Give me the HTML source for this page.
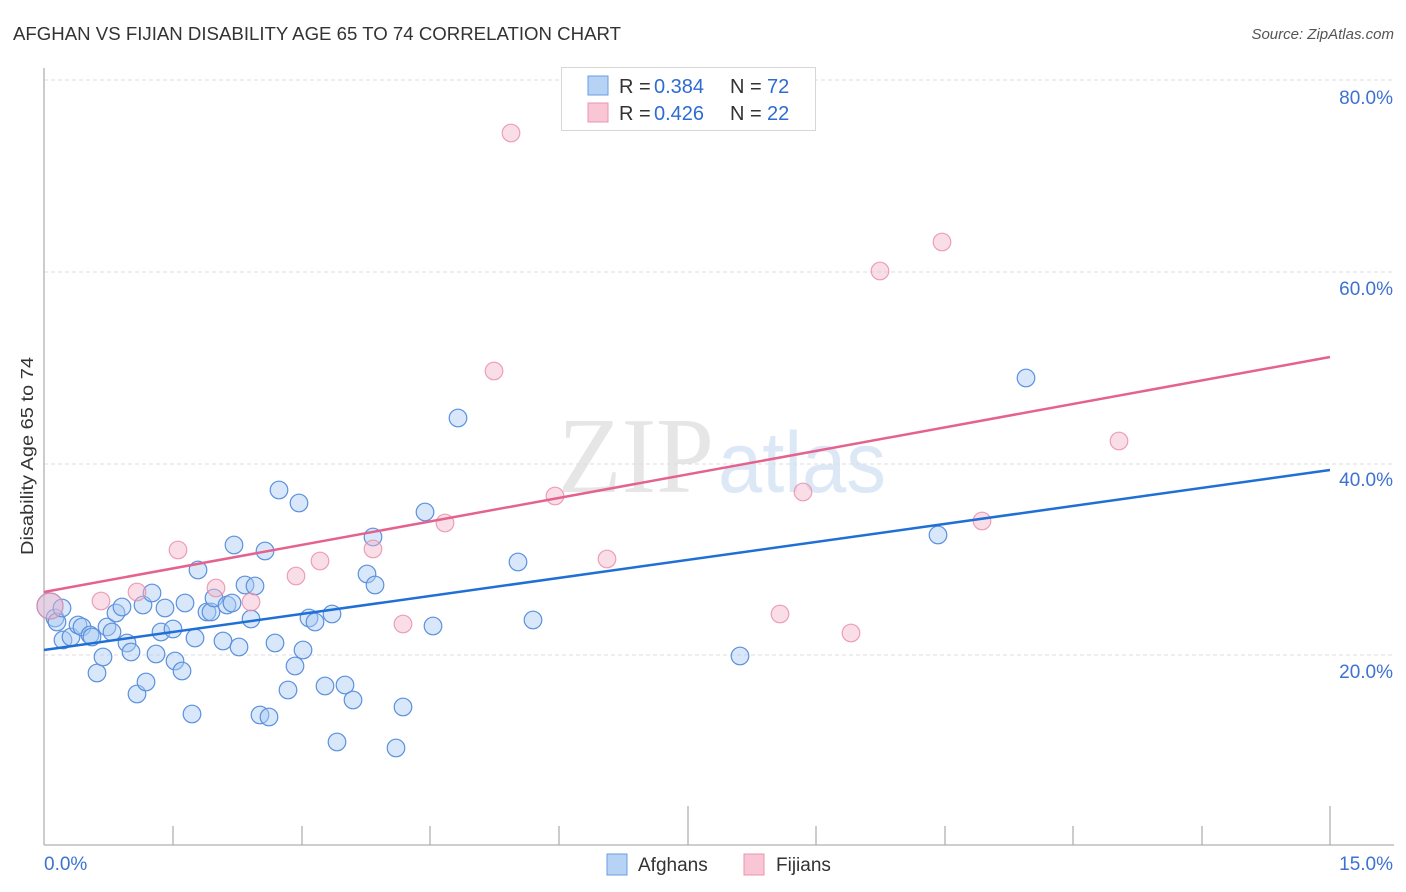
<!DOCTYPE html>
<html><head><meta charset="utf-8"><style>
html,body{margin:0;padding:0;background:#fff;}
svg{display:block;}
</style></head><body>
<svg width="1406" height="892" viewBox="0 0 1406 892" xmlns="http://www.w3.org/2000/svg" font-family="Liberation Sans, sans-serif">
<rect width="1406" height="892" fill="#fff"/>
<text x="13" y="40" font-size="18.5" fill="#333" textLength="608" lengthAdjust="spacingAndGlyphs">AFGHAN VS FIJIAN DISABILITY AGE 65 TO 74 CORRELATION CHART</text>
<text x="1394" y="39" font-size="15" fill="#555" font-style="italic" text-anchor="end">Source: ZipAtlas.com</text>

<!-- watermark -->
<text x="558" y="492" font-family="Liberation Serif, serif" font-size="108" fill="#e6e6e6" textLength="156" lengthAdjust="spacingAndGlyphs">ZIP</text>
<text x="718" y="492" font-size="86" fill="#dde8f6" textLength="168" lengthAdjust="spacingAndGlyphs">atlas</text>

<!-- gridlines -->
<g stroke="#dedede" stroke-width="1" stroke-dasharray="4,3">
<line x1="44" y1="80" x2="1393" y2="80"/>
<line x1="44" y1="272" x2="1393" y2="272"/>
<line x1="44" y1="464" x2="1393" y2="464"/>
<line x1="44" y1="655" x2="1393" y2="655"/>
</g>

<!-- axes -->
<g stroke="#b0b0b0" stroke-width="1.3">
<line x1="44" y1="68" x2="44" y2="845"/>
<line x1="44" y1="845" x2="1394" y2="845"/>
<line x1="173" y1="826" x2="173" y2="845"/>
<line x1="302" y1="826" x2="302" y2="845"/>
<line x1="430" y1="826" x2="430" y2="845"/>
<line x1="559" y1="826" x2="559" y2="845"/>
<line x1="688" y1="806" x2="688" y2="845"/>
<line x1="816" y1="826" x2="816" y2="845"/>
<line x1="945" y1="826" x2="945" y2="845"/>
<line x1="1073" y1="826" x2="1073" y2="845"/>
<line x1="1202" y1="826" x2="1202" y2="845"/>
<line x1="1330" y1="806" x2="1330" y2="845"/>
</g>

<!-- y labels -->
<g font-size="19" fill="#3d72d1" text-anchor="end">
<text x="1393" y="104">80.0%</text>
<text x="1393" y="295">60.0%</text>
<text x="1393" y="486">40.0%</text>
<text x="1393" y="678">20.0%</text>
</g>
<text x="44" y="870" font-size="19" fill="#3d72d1">0.0%</text>
<text x="1393" y="870" font-size="19" fill="#3d72d1" text-anchor="end">15.0%</text>

<text transform="translate(33,456) rotate(-90)" font-size="17.5" fill="#333" text-anchor="middle" textLength="198" lengthAdjust="spacingAndGlyphs">Disability Age 65 to 74</text>

<!-- blue points -->
<g fill="#a9c9f1" fill-opacity="0.45" stroke="#5b90de" stroke-width="1.2">
<circle cx="50" cy="606" r="13"/>
<circle cx="55" cy="618" r="8.8"/><circle cx="57" cy="622" r="8.8"/><circle cx="62" cy="608" r="8.8"/>
<circle cx="63" cy="640" r="8.8"/><circle cx="71" cy="637" r="8.8"/><circle cx="78" cy="625" r="8.8"/>
<circle cx="82" cy="627" r="8.8"/><circle cx="90" cy="635" r="8.8"/><circle cx="92" cy="637" r="8.8"/>
<circle cx="97" cy="673" r="8.8"/><circle cx="103" cy="657" r="8.8"/><circle cx="107" cy="627" r="8.8"/>
<circle cx="112" cy="632" r="8.8"/><circle cx="116" cy="613" r="8.8"/><circle cx="122" cy="607" r="8.8"/>
<circle cx="127" cy="643" r="8.8"/><circle cx="131" cy="652" r="8.8"/><circle cx="137" cy="694" r="8.8"/>
<circle cx="143" cy="605" r="8.8"/><circle cx="146" cy="682" r="8.8"/><circle cx="152" cy="593" r="8.8"/>
<circle cx="156" cy="654" r="8.8"/><circle cx="161" cy="632" r="8.8"/><circle cx="165" cy="608" r="8.8"/>
<circle cx="173" cy="629" r="8.8"/><circle cx="175" cy="661" r="8.8"/><circle cx="182" cy="671" r="8.8"/>
<circle cx="185" cy="603" r="8.8"/><circle cx="192" cy="714" r="8.8"/><circle cx="195" cy="638" r="8.8"/>
<circle cx="198" cy="570" r="8.8"/><circle cx="207" cy="612" r="8.8"/><circle cx="211" cy="612" r="8.8"/>
<circle cx="214" cy="598" r="8.8"/><circle cx="223" cy="641" r="8.8"/><circle cx="227" cy="605" r="8.8"/>
<circle cx="232" cy="603" r="8.8"/><circle cx="234" cy="545" r="8.8"/><circle cx="239" cy="647" r="8.8"/>
<circle cx="245" cy="585" r="8.8"/><circle cx="251" cy="619" r="8.8"/><circle cx="255" cy="586" r="8.8"/>
<circle cx="260" cy="715" r="8.8"/><circle cx="265" cy="551" r="8.8"/><circle cx="269" cy="717" r="8.8"/>
<circle cx="275" cy="643" r="8.8"/><circle cx="279" cy="490" r="8.8"/><circle cx="288" cy="690" r="8.8"/>
<circle cx="295" cy="666" r="8.8"/><circle cx="299" cy="503" r="8.8"/><circle cx="303" cy="650" r="8.8"/>
<circle cx="309" cy="618" r="8.8"/><circle cx="315" cy="622" r="8.8"/><circle cx="325" cy="686" r="8.8"/>
<circle cx="332" cy="614" r="8.8"/><circle cx="337" cy="742" r="8.8"/><circle cx="345" cy="685" r="8.8"/>
<circle cx="353" cy="700" r="8.8"/><circle cx="367" cy="574" r="8.8"/><circle cx="373" cy="537" r="8.8"/>
<circle cx="375" cy="585" r="8.8"/><circle cx="396" cy="748" r="8.8"/><circle cx="403" cy="707" r="8.8"/>
<circle cx="425" cy="512" r="8.8"/><circle cx="433" cy="626" r="8.8"/><circle cx="458" cy="418" r="8.8"/>
<circle cx="518" cy="562" r="8.8"/><circle cx="533" cy="620" r="8.8"/><circle cx="740" cy="656" r="8.8"/>
<circle cx="938" cy="535" r="8.8"/><circle cx="1026" cy="378" r="8.8"/>
</g>

<!-- pink points -->
<g fill="#f5b6ca" fill-opacity="0.45" stroke="#e88aa8" stroke-width="1.2" stroke-opacity="0.8">
<circle cx="50" cy="606" r="13"/>
<circle cx="101" cy="601" r="8.8"/><circle cx="137" cy="592" r="8.8"/><circle cx="178" cy="550" r="8.8"/>
<circle cx="216" cy="588" r="8.8"/><circle cx="251" cy="602" r="8.8"/><circle cx="296" cy="576" r="8.8"/>
<circle cx="320" cy="561" r="8.8"/><circle cx="373" cy="549" r="8.8"/><circle cx="403" cy="624" r="8.8"/>
<circle cx="445" cy="523" r="8.8"/><circle cx="494" cy="371" r="8.8"/><circle cx="511" cy="133" r="8.8"/>
<circle cx="555" cy="496" r="8.8"/><circle cx="607" cy="559" r="8.8"/><circle cx="780" cy="614" r="8.8"/>
<circle cx="803" cy="492" r="8.8"/><circle cx="851" cy="633" r="8.8"/><circle cx="880" cy="271" r="8.8"/>
<circle cx="942" cy="242" r="8.8"/><circle cx="982" cy="521" r="8.8"/><circle cx="1119" cy="441" r="8.8"/>
</g>

<!-- regression lines -->
<line x1="44" y1="650" x2="1330" y2="470" stroke="#1f6fd6" stroke-width="2.5"/>
<line x1="44" y1="592" x2="1330" y2="357" stroke="#e5628e" stroke-width="2.5"/>

<!-- legend box -->
<rect x="561.5" y="67.5" width="254" height="63" fill="#fff" stroke="#d6d6d6" stroke-width="1"/>
<rect x="588" y="76" width="20" height="19" fill="#b6d2f5" stroke="#6a9ee0" stroke-width="1"/>
<rect x="588" y="103" width="20" height="19" fill="#f9c6d6" stroke="#ea94b1" stroke-width="1"/>
<g font-size="20">
<text x="619" y="93" fill="#333">R =</text><text x="654" y="93" fill="#2f6bd1">0.384</text>
<text x="730" y="93" fill="#333">N =</text><text x="767" y="93" fill="#2f6bd1">72</text>
<text x="619" y="120" fill="#333">R =</text><text x="654" y="120" fill="#2f6bd1">0.426</text>
<text x="730" y="120" fill="#333">N =</text><text x="767" y="120" fill="#2f6bd1">22</text>
</g>

<!-- bottom legend -->
<rect x="607" y="854" width="20" height="21" fill="#b6d2f5" stroke="#6a9ee0" stroke-width="1"/>
<text x="638" y="871" font-size="19" fill="#333">Afghans</text>
<rect x="744" y="854" width="20" height="21" fill="#f9c6d6" stroke="#ea94b1" stroke-width="1"/>
<text x="776" y="871" font-size="19" fill="#333">Fijians</text>
</svg>
</body></html>
